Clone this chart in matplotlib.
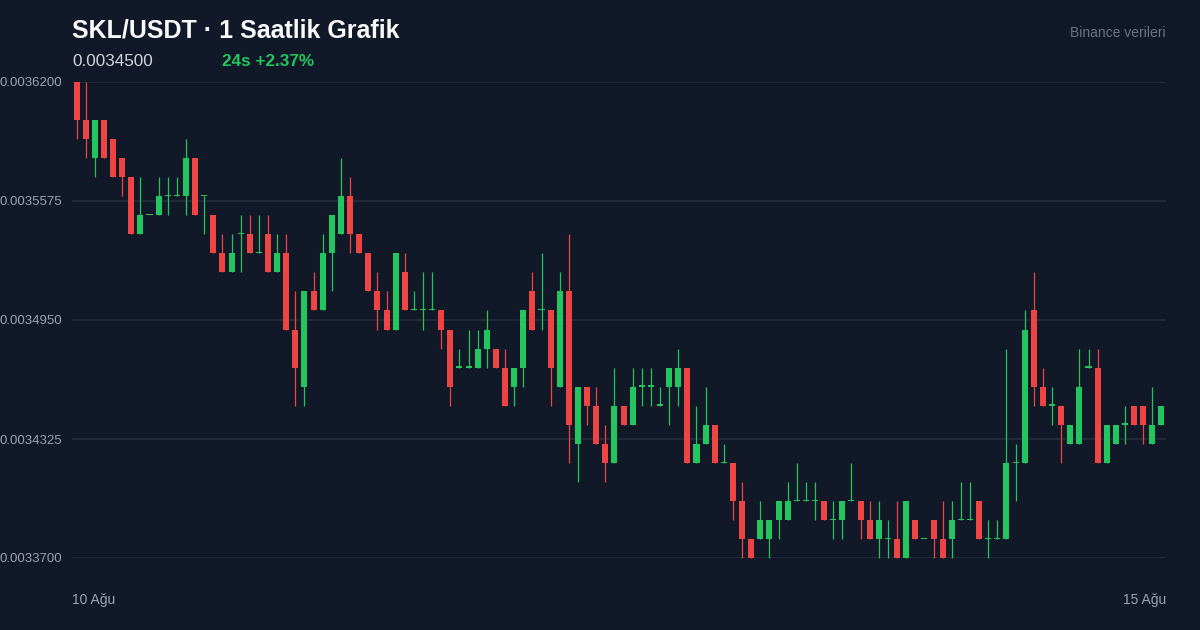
import matplotlib
matplotlib.use('Agg')
from matplotlib import pyplot as plt
import numpy as np

# hourly candles, prices in units of 1e-5 USDT
opens = [362, 360, 358, 360, 359, 358, 357, 354, 355, 355,
         356, 356, 356, 358, 356, 355, 353, 352, 354, 354,
         353, 354, 352, 353, 349, 346, 351, 350, 353, 354,
         356, 354, 353, 351, 350, 349, 352, 350, 350, 350,
         350, 349, 347, 347, 347, 348, 348, 347, 346, 347,
         351, 350, 350, 346, 351, 343, 346, 345, 343, 342,
         345, 344, 346, 346, 345, 346, 346, 347, 342, 343,
         344, 342, 342, 340, 338, 338, 338, 339, 339, 340,
         340, 340, 340, 339, 339, 340, 340, 339, 338, 338,
         338, 337, 339, 338, 339, 338, 338, 339, 339, 340,
         338, 338, 338, 342, 342, 350, 346, 345, 345, 343,
         343, 347, 347, 342, 343, 344, 345, 345, 343, 344]
highs = [362, 362, 360, 360, 359, 358, 357, 357, 355, 357,
         357, 357, 359, 358, 356, 355, 354, 354, 355, 355,
         355, 355, 354, 354, 351, 351, 352, 354, 355, 358,
         357, 354, 353, 352, 351, 353, 353, 351, 352, 352,
         350, 349, 348, 349, 349, 350, 348, 348, 347, 350,
         352, 353, 350, 352, 354, 346, 346, 346, 344, 347,
         345, 347, 347, 347, 346, 347, 348, 347, 345, 346,
         344, 343, 342, 341, 338, 340, 339, 340, 341, 342,
         341, 341, 340, 340, 340, 342, 340, 340, 340, 339,
         340, 340, 339, 338, 339, 340, 340, 341, 341, 340,
         339, 339, 348, 343, 350, 352, 347, 346, 345, 344,
         348, 348, 348, 344, 344, 345, 345, 345, 346, 345]
lows = [359, 358, 357, 358, 357, 356, 354, 354, 355, 355,
        355, 356, 355, 355, 354, 353, 352, 352, 352, 353,
        353, 352, 352, 349, 345, 345, 350, 350, 351, 354,
        353, 353, 351, 349, 349, 349, 350, 350, 349, 350,
        348, 345, 347, 347, 347, 347, 347, 345, 345, 346,
        349, 349, 345, 346, 342, 341, 344, 343, 341, 342,
        344, 344, 345, 345, 345, 344, 345, 342, 342, 343,
        342, 342, 339, 337, 337, 338, 337, 338, 339, 340,
        340, 339, 339, 338, 338, 340, 338, 338, 337, 337,
        337, 337, 338, 338, 337, 337, 337, 339, 339, 338,
        337, 338, 338, 340, 342, 345, 345, 344, 342, 343,
        343, 347, 342, 342, 343, 343, 344, 343, 343, 344]
closes = [360, 359, 360, 358, 357, 357, 354, 355, 355, 356,
          356, 356, 358, 355, 356, 353, 352, 353, 354, 353,
          353, 352, 353, 349, 347, 351, 350, 353, 355, 356,
          354, 353, 351, 350, 349, 353, 350, 350, 350, 350,
          349, 346, 347, 347, 348, 349, 347, 345, 347, 350,
          349, 350, 347, 351, 344, 346, 345, 343, 342, 345,
          344, 346, 346, 346, 345, 347, 347, 342, 343, 344,
          342, 342, 340, 338, 337, 339, 339, 340, 340, 340,
          340, 340, 339, 339, 340, 340, 339, 338, 339, 338,
          337, 340, 338, 338, 338, 337, 339, 339, 339, 338,
          338, 338, 342, 342, 349, 346, 345, 345, 344, 344,
          346, 347, 342, 344, 344, 344, 344, 344, 344, 345]

y_ticks = [0.00337, 0.0034325, 0.003495, 0.0035575, 0.00362]
date_labels = ['10 Ağu', '15 Ağu']
last_price = '0.0034500'
change_text = '24s +2.37%'

BG = '#111827'
GREEN = '#22c55e'
RED = '#ef4444'

plt.rcParams['font.family'] = ['Liberation Sans', 'DejaVu Sans']

o = np.array(opens) * 1e-5
h = np.array(highs) * 1e-5
l = np.array(lows) * 1e-5
c = np.array(closes) * 1e-5
x = np.arange(len(o)) + 0.5
colors = np.where(c >= o, GREEN, RED)

W, H = 1200, 630
fig = plt.figure(figsize=(12, 6.3), dpi=100, facecolor=BG)
ax = fig.add_axes([72 / W, 1 - 558 / H, (1166 - 72) / W, (558 - 82) / H])
ax.set_facecolor(BG)
ax.set_xlim(0, len(o))
ax.set_ylim(y_ticks[0], y_ticks[-1])

for t in y_ticks:
    ax.axhline(t, color='#1f2937', lw=1.5, zorder=0)

ax.vlines(x, l, h, colors=colors, lw=0.9, zorder=2, clip_on=False)
body_low = np.minimum(o, c)
body_h = np.maximum(np.abs(c - o), 0.065e-5)
ax.bar(x, body_h, bottom=body_low, width=0.66, color=colors,
       zorder=3, clip_on=False, linewidth=0)

ax.set_yticks(y_ticks)
ax.set_yticklabels([f'{t:.7f}' for t in y_ticks])
ax.tick_params(axis='y', length=0, pad=7, labelsize=9.5, labelcolor='#9ca3af')
ax.set_xticks([])
for s in ax.spines.values():
    s.set_visible(False)

fig.text(72 / W, 1 - 30 / H, 'SKL/USDT · 1 Saatlik Grafik', color='#f9fafb',
         fontsize=18, fontweight='bold', ha='left', va='center')
fig.text(72 / W, 1 - 61 / H, last_price, color='#d1d5db', fontsize=12.3,
         ha='left', va='center')
fig.text(222 / W, 1 - 61 / H, change_text, color=GREEN, fontsize=12.3,
         fontweight='bold', ha='left', va='center')
fig.text(1166 / W, 1 - 33 / H, 'Binance verileri', color='#6b7280',
         fontsize=10, ha='right', va='center')
fig.text(72 / W, 1 - 600 / H, date_labels[0], color='#9ca3af', fontsize=10,
         ha='left', va='center')
fig.text(1166 / W, 1 - 600 / H, date_labels[1], color='#9ca3af', fontsize=10,
         ha='right', va='center')

fig.savefig('out.png', dpi=100, facecolor=BG)
